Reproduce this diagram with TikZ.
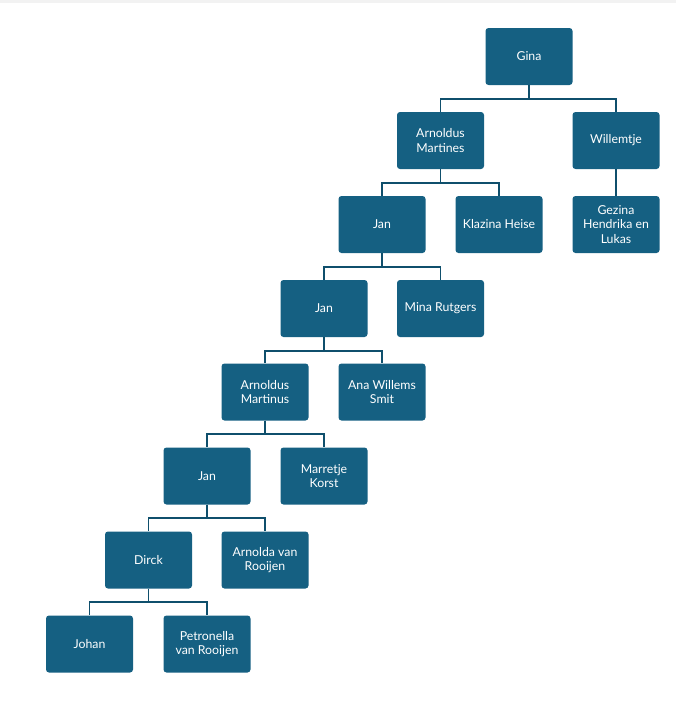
\documentclass[tikz,border=0pt]{standalone}
\usepackage{fontspec}
\setmainfont{Lato}
\definecolor{boxblue}{HTML}{156082}
\definecolor{linkblue}{HTML}{0F4F6C}
\tikzset{
  person/.style={fill=boxblue, rounded corners=3pt, minimum width=87pt, minimum height=57pt,
    text=white, align=center, font=\fontsize{12.3}{14.8}\selectfont, inner sep=1pt},
  link/.style={linkblue, line width=1.6pt}
}
\begin{document}
\begin{tikzpicture}[x=1pt, y=-1pt]
\useasboundingbox (0,0) rectangle (676,712);
\fill[black!5] (0,0) rectangle (676,3);

% People
\node[person] (gina) at (529,56.5) {Gina};

\node[person] (arnoldus1) at (440.5,140.5) {Arnoldus\\Martines};
\node[person] (willemtje) at (616,140.5) {Willemtje};

\node[person] (jan1) at (382,224.5) {Jan};
\node[person] (klazina) at (499,224.5) {Klazina Heise};
\node[person] (gezina) at (616,224.5) {Gezina\\Hendrika en\\Lukas};

\node[person] (jan2) at (324,308.5) {Jan};
\node[person] (mina) at (440.5,308.5) {Mina Rutgers};

\node[person] (arnoldus2) at (265,392) {Arnoldus\\Martinus};
\node[person] (ana) at (382,392) {Ana Willems\\Smit};

\node[person] (jan3) at (207,476) {Jan};
\node[person] (marretje) at (324,476) {Marretje\\Korst};

\node[person] (dirck) at (148.5,560) {Dirck};
\node[person] (arnolda) at (265,560) {Arnolda van\\Rooijen};

\node[person] (johan) at (89.5,644) {Johan};
\node[person] (petronella) at (207,644) {Petronella\\van Rooijen};

% Links
\draw[link] (gina.south) -- ++(0,13.5) -| (arnoldus1.north);
\draw[link] (gina.south) -- ++(0,13.5) -| (willemtje.north);
\draw[link] (willemtje.south) -- (gezina.north);

\draw[link] (arnoldus1.south) -- ++(0,13.5) -| (jan1.north);
\draw[link] (arnoldus1.south) -- ++(0,13.5) -| (klazina.north);

\draw[link] (jan1.south) -- ++(0,13.5) -| (jan2.north);
\draw[link] (jan1.south) -- ++(0,13.5) -| (mina.north);

\draw[link] (jan2.south) -- ++(0,13.5) -| (arnoldus2.north);
\draw[link] (jan2.south) -- ++(0,13.5) -| (ana.north);

\draw[link] (arnoldus2.south) -- ++(0,13.5) -| (jan3.north);
\draw[link] (arnoldus2.south) -- ++(0,13.5) -| (marretje.north);

\draw[link] (jan3.south) -- ++(0,13.5) -| (dirck.north);
\draw[link] (jan3.south) -- ++(0,13.5) -| (arnolda.north);

\draw[link] (dirck.south) -- ++(0,13.5) -| (johan.north);
\draw[link] (dirck.south) -- ++(0,13.5) -| (petronella.north);
\end{tikzpicture}
\end{document}
